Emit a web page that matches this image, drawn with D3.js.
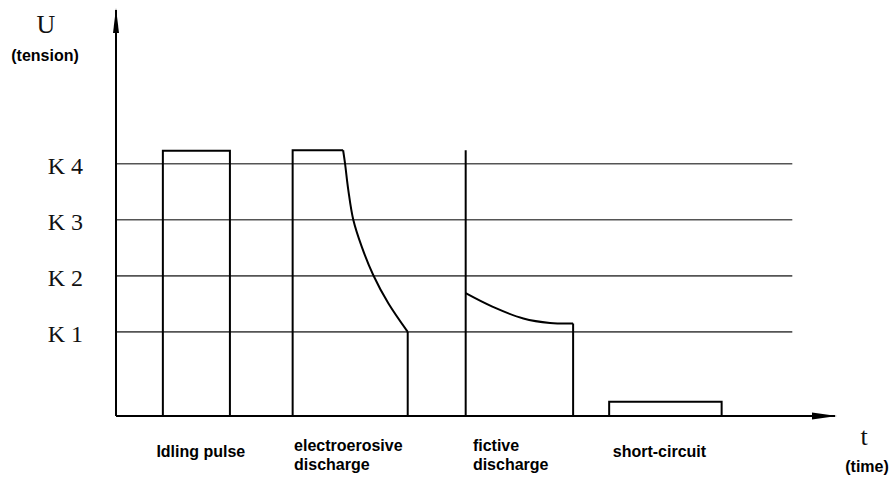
<!DOCTYPE html>
<html>
<head>
<meta charset="utf-8">
<script src="https://cdn.jsdelivr.net/npm/d3@7"></script>
<style>
  body { margin: 0; background: #fff; }
  svg { display: block; }
  .serif { font-family: "Liberation Serif", "DejaVu Serif", serif; fill: #111; }
  .sans { font-family: "Liberation Sans", Arial, sans-serif; font-weight: bold; fill: #000; }
</style>
</head>
<body>
<div id="chart"></div>
<script>
// threshold levels
const kLabels = ["K 1", "K 2", "K 3", "K 4"];
const kValues = [1.5, 2.5, 3.5, 4.5];

// pulses as [time, tension] points (time 0..100 along axis)
const idlingPulse = [[6.5, 0], [6.5, 4.73], [15.8, 4.73], [15.8, 0]];
const erosiveFlat = [[24.5, 0], [24.5, 4.74], [31.5, 4.74]];
const erosiveDecay = [[31.5, 4.74], [31.76, 4.51], [32.22, 4.03], [32.91, 3.5], [34.08, 3.02], [35.69, 2.51], [37.77, 2.01], [40.46, 1.5]];
const erosiveDrop = [[40.46, 1.5], [40.46, 0]];
const fictiveSpike = [[48.5, 0], [48.5, 4.74]];
const fictiveDecay = [[48.5, 2.19], [52.2, 1.95], [56.5, 1.74], [60.2, 1.66], [63.4, 1.65]];
const fictiveDrop = [[63.4, 1.65], [63.4, 0]];
const shortCircuit = [[68.4, 0], [68.4, 0.255], [84.0, 0.255], [84.0, 0]];

// phase labels and where they start on the time axis
const phaseLabels = [["Idling pulse"], ["electroerosive", "discharge"], ["fictive", "discharge"], ["short-circuit"]];
const phaseStart = [5.6, 24.7, 49.5, 68.9];

const width = 892, height = 477;
const svg = d3.select("#chart").append("svg")
  .attr("width", width)
  .attr("height", height);

const x = d3.scaleLinear().domain([0, 100]).range([116, 837]);
const y = d3.scaleLinear().domain([0, 4.5]).range([416, 163.7]);

// horizontal K levels
svg.append("g")
  .selectAll("line")
  .data(kValues)
  .join("line")
    .attr("x1", x(0))
    .attr("x2", x(93.8))
    .attr("y1", d => y(d))
    .attr("y2", d => y(d))
    .attr("stroke", "#555")
    .attr("stroke-width", 1.6);

svg.append("g")
  .selectAll("text")
  .data(kLabels)
  .join("text")
    .attr("class", "serif")
    .attr("x", 83)
    .attr("y", (d, i) => y(kValues[i]) + 10)
    .attr("text-anchor", "end")
    .style("font-size", "24px")
    .text(d => d);

// axes
svg.append("line")
  .attr("x1", x(0)).attr("x2", x(0))
  .attr("y1", y(0)).attr("y2", 10)
  .attr("stroke", "#000").attr("stroke-width", 2);
svg.append("path")
  .attr("d", `M${x(0)},8 L${x(0) + 3},33 L${x(0) - 3},33 Z`)
  .attr("fill", "#000");

svg.append("line")
  .attr("x1", x(0)).attr("x2", x(100) - 2)
  .attr("y1", y(0)).attr("y2", y(0))
  .attr("stroke", "#000").attr("stroke-width", 2);
svg.append("path")
  .attr("d", `M${x(100)},${y(0)} L${x(100) - 25},${y(0) - 3.5} L${x(100) - 25},${y(0) + 3.5} Z`)
  .attr("fill", "#000");

// signal paths
const straight = d3.line().x(d => x(d[0])).y(d => y(d[1]));
const smooth = d3.line().x(d => x(d[0])).y(d => y(d[1])).curve(d3.curveCatmullRom.alpha(0.5));

const signals = svg.append("g")
  .attr("fill", "none")
  .attr("stroke", "#000")
  .attr("stroke-width", 2)
  .attr("stroke-linejoin", "miter");

[idlingPulse, erosiveFlat, erosiveDrop, fictiveSpike, fictiveDrop, shortCircuit].forEach(p => {
  signals.append("path").attr("d", straight(p));
});
[erosiveDecay, fictiveDecay].forEach(p => {
  signals.append("path").attr("d", smooth(p));
});

// phase labels below the time axis
const labels = svg.append("g")
  .selectAll("text")
  .data(phaseLabels)
  .join("text")
    .attr("class", "sans")
    .attr("x", (d, i) => x(phaseStart[i]))
    .attr("y", d => d.length > 1 ? 451 : 457)
    .style("font-size", "16px");
labels.selectAll("tspan")
  .data(d => d)
  .join("tspan")
    .attr("x", function() { return this.parentNode.getAttribute("x"); })
    .attr("dy", (d, i) => i === 0 ? 0 : 19)
    .text(d => d);

// axis titles
svg.append("text").attr("class", "serif")
  .attr("x", 46).attr("y", 33)
  .attr("text-anchor", "middle")
  .style("font-size", "26px")
  .text("U");
svg.append("text").attr("class", "sans")
  .attr("x", 45).attr("y", 61)
  .attr("text-anchor", "middle")
  .style("font-size", "16px")
  .text("(tension)");

svg.append("text").attr("class", "serif")
  .attr("x", 864).attr("y", 445)
  .attr("text-anchor", "middle")
  .style("font-size", "26px")
  .text("t");
svg.append("text").attr("class", "sans")
  .attr("x", 867).attr("y", 472)
  .attr("text-anchor", "middle")
  .style("font-size", "16px")
  .text("(time)");
</script>
</body>
</html>
